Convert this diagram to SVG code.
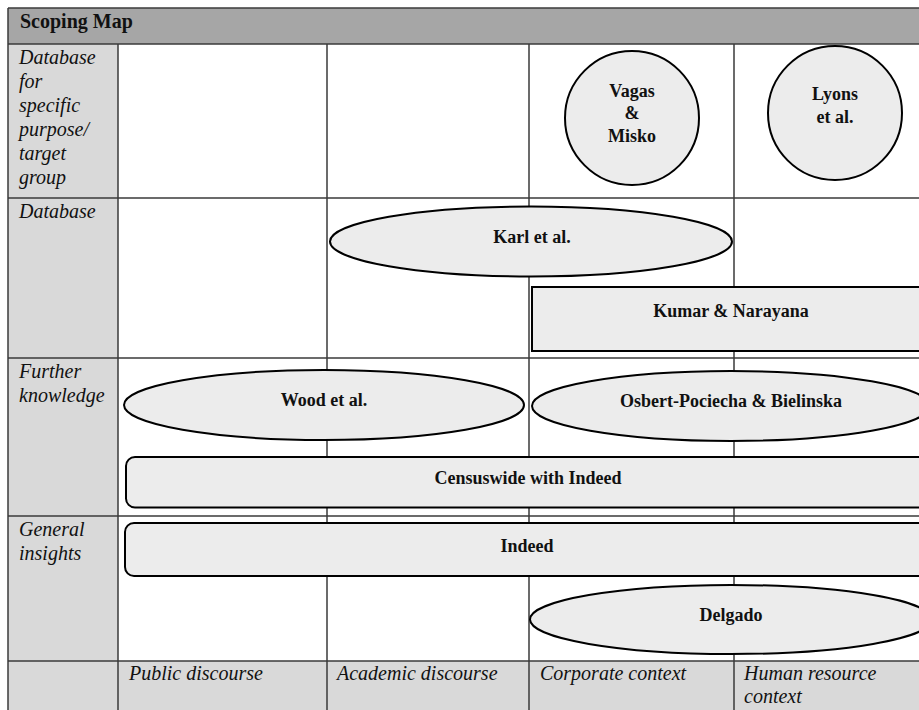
<svg xmlns="http://www.w3.org/2000/svg" width="919" height="710" viewBox="0 0 919 710">
<style>
.grid{stroke:#3a3a3a;stroke-width:1.5;fill:none}
.shape{fill:#ececec;stroke:#000;stroke-width:2}
.lbl{font-family:"Liberation Serif","Times New Roman",serif;font-style:italic;font-size:20px;fill:#111}
.nm{font-family:"Liberation Serif","Times New Roman",serif;font-weight:bold;font-size:18px;fill:#111;text-anchor:middle}
.title{font-family:"Liberation Serif","Times New Roman",serif;font-weight:bold;font-size:20px;fill:#111}
</style>
<rect x="0" y="0" width="919" height="710" fill="#fff"/>
<g id="table">
<rect x="8" y="8" width="920" height="36" fill="#a6a6a6"/>
<rect x="8" y="44" width="110" height="670" fill="#d9d9d9"/>
<rect x="118" y="661" width="810" height="53" fill="#d9d9d9"/>
<text class="title" x="20" y="28">Scoping Map</text>
<g class="grid">
<line x1="8" y1="8" x2="919" y2="8"/>
<line x1="8" y1="8" x2="8" y2="710"/>
<line x1="8" y1="44" x2="919" y2="44"/>
<line x1="8" y1="198" x2="919" y2="198"/>
<line x1="8" y1="358" x2="919" y2="358"/>
<line x1="8" y1="516" x2="919" y2="516"/>
<line x1="8" y1="661" x2="919" y2="661"/>
<line x1="118" y1="44" x2="118" y2="710"/>
<line x1="327" y1="44" x2="327" y2="710"/>
<line x1="529" y1="44" x2="529" y2="710"/>
<line x1="734" y1="44" x2="734" y2="710"/>
</g>
<g class="lbl">
<text x="19" y="64">Database</text>
<text x="19" y="88">for</text>
<text x="19" y="112">specific</text>
<text x="19" y="136">purpose/</text>
<text x="19" y="160">target</text>
<text x="19" y="184">group</text>
<text x="19" y="218">Database</text>
<text x="19" y="378">Further</text>
<text x="19" y="402">knowledge</text>
<text x="19" y="536">General</text>
<text x="19" y="560">insights</text>
<text x="129" y="680">Public discourse</text>
<text x="337" y="680">Academic discourse</text>
<text x="540" y="680">Corporate context</text>
<text x="744" y="680">Human resource</text>
<text x="744" y="703">context</text>
</g>
</g>
<g id="vagas-misko">
<circle class="shape" cx="632" cy="118" r="67"/>
<text class="nm" x="632" y="97">Vagas</text>
<text class="nm" x="632" y="119">&amp;</text>
<text class="nm" x="632" y="142">Misko</text>
</g>
<g id="lyons">
<circle class="shape" cx="835" cy="113" r="67"/>
<text class="nm" x="835" y="100">Lyons</text>
<text class="nm" x="835" y="123">et al.</text>
</g>
<g id="karl">
<ellipse class="shape" cx="531" cy="241.5" rx="201" ry="35"/>
<text class="nm" x="532" y="243">Karl et al.</text>
</g>
<g id="kumar">
<rect class="shape" x="532" y="287" width="398" height="64"/>
<text class="nm" x="731" y="317">Kumar &amp; Narayana</text>
</g>
<g id="wood">
<ellipse class="shape" cx="324" cy="405" rx="200" ry="35"/>
<text class="nm" x="324" y="406">Wood et al.</text>
</g>
<g id="osbert">
<ellipse class="shape" cx="731" cy="406" rx="199" ry="35"/>
<text class="nm" x="731" y="407">Osbert-Pociecha &amp; Bielinska</text>
</g>
<g id="censuswide">
<rect class="shape" x="126" y="457" width="804" height="50.5" rx="9"/>
<text class="nm" x="528" y="484">Censuswide with Indeed</text>
</g>
<g id="indeed">
<rect class="shape" x="125" y="523" width="804" height="53" rx="9"/>
<text class="nm" x="527" y="552">Indeed</text>
</g>
<g id="delgado">
<ellipse class="shape" cx="731" cy="619.5" rx="201" ry="34.5"/>
<text class="nm" x="731" y="621">Delgado</text>
</g>
</svg>
